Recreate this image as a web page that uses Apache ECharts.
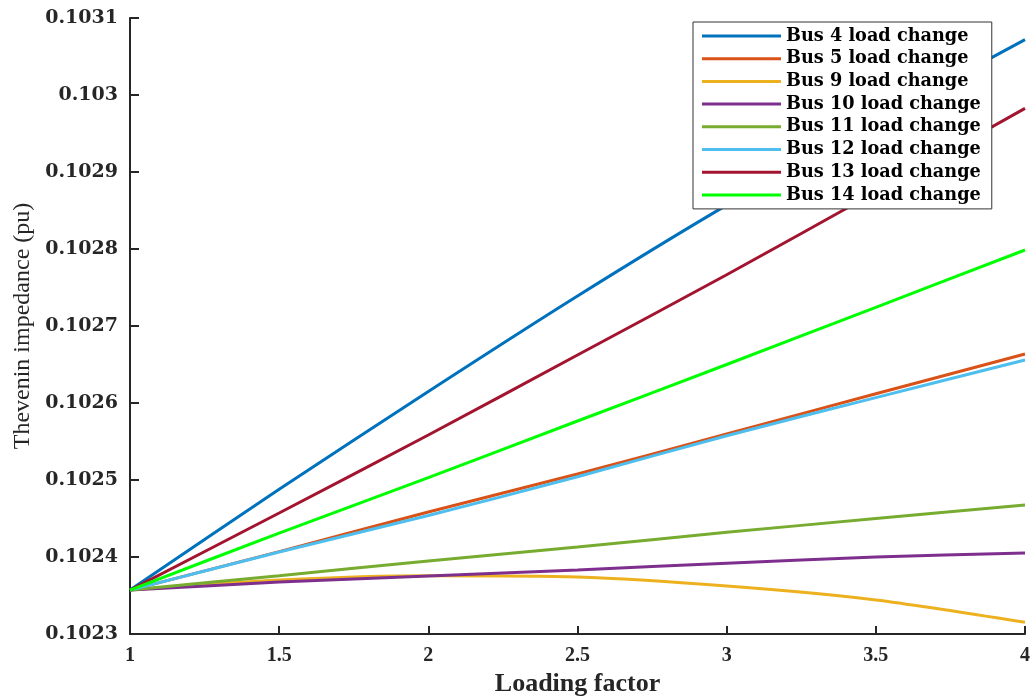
<!DOCTYPE html>
<html>
<head>
<meta charset="utf-8">
<script src="https://cdn.jsdelivr.net/npm/echarts@6/dist/echarts.min.js"></script>
<style>html,body{margin:0;padding:0;background:#fff}#c{width:1035px;height:697px}</style>
</head>
<body>
<div id="c"></div>
<script>
const loadingFactor = [1, 1.5, 2, 2.5, 3, 3.5, 4];
const seriesNames = ['Bus 4 load change','Bus 5 load change','Bus 9 load change','Bus 10 load change','Bus 11 load change','Bus 12 load change','Bus 13 load change','Bus 14 load change'];
const bus4  = [0.102357, 0.102488, 0.102615, 0.102739, 0.102857, 0.102967, 0.103072];
const bus5  = [0.102357, 0.102407, 0.1024584, 0.1025078, 0.1025597, 0.102612, 0.1026636];
const bus9  = [0.102357, 0.10237, 0.1023755, 0.102374, 0.1023623, 0.1023442, 0.1023152];
const bus10 = [0.102357, 0.1023675, 0.1023753, 0.1023831, 0.102392, 0.1024, 0.1024052];
const bus11 = [0.102357, 0.1023757, 0.1023948, 0.102413, 0.102432, 0.10245, 0.1024675];
const bus12 = [0.102357, 0.1024065, 0.1024538, 0.1025043, 0.1025575, 0.102607, 0.1026558];
const bus13 = [0.102357, 0.1024571, 0.1025584, 0.1026623, 0.1027666, 0.102874, 0.1029827];
const bus14 = [0.102357, 0.102431, 0.102503, 0.1025766, 0.10265, 0.1027243, 0.1027987];

const allSeries = [bus4, bus5, bus9, bus10, bus11, bus12, bus13, bus14];
const colors = ['#0072BD','#D95319','#EDB120','#7E2F8E','#77AC30','#4DBEEE','#A2142F','#00FF00'];
const dark = '#262626';

const chart = echarts.init(document.getElementById('c'), null, {renderer: 'canvas'});
chart.setOption({
  animation: false,
  backgroundColor: '#fff',
  grid: {left: 130, right: 10, top: 18, bottom: 63, containLabel: false, outerBoundsMode: 'none'},
  xAxis: {
    type: 'value', min: 1, max: 4, interval: 0.5,
    name: 'Loading factor', nameLocation: 'middle', nameGap: 27,
    nameTextStyle: {fontFamily: 'Liberation Serif', fontWeight: 'bold', fontSize: 26, color: dark},
    axisLine: {show: true, lineStyle: {color: dark, width: 2}},
    axisTick: {show: true, inside: true, length: 8, lineStyle: {color: dark, width: 2}},
    axisLabel: {margin: 12, fontFamily: 'Liberation Serif', fontWeight: 'bold', fontSize: 20, color: dark},
    splitLine: {show: false}
  },
  yAxis: {
    type: 'value', min: 0.1023, max: 0.1031, interval: 0.0001,
    name: 'Thevenin impedance (pu)', nameLocation: 'middle', nameGap: 94,
    nameTextStyle: {fontFamily: 'Liberation Serif', fontSize: 24, color: dark},
    axisLine: {show: true, lineStyle: {color: dark, width: 2}},
    axisTick: {show: true, inside: true, length: 9, lineStyle: {color: dark, width: 2}},
    axisLabel: {
      margin: 12, fontFamily: 'DejaVu Serif', fontWeight: 'bold', fontSize: 19, color: dark,
      formatter: function (v) { return String(parseFloat(v.toFixed(4))); }
    },
    splitLine: {show: false}
  },
  legend: {
    orient: 'vertical', left: 693, top: 22,
    backgroundColor: '#fff', borderColor: '#333', borderWidth: 1,
    padding: [5, 11, 5, 9],
    icon: 'rect',
    itemWidth: 79, itemHeight: 3, itemGap: 4.7,
    textStyle: {fontFamily: 'DejaVu Serif', fontWeight: 'bold', fontSize: 17.7, color: '#000', lineHeight: 18},
    data: seriesNames
  },
  series: allSeries.map((vals, i) => ({
    name: seriesNames[i],
    type: 'line',
    data: loadingFactor.map((x, j) => [x, vals[j]]),
    smooth: 0.25,
    showSymbol: false,
    symbol: 'none',
    color: colors[i],
    itemStyle: {color: colors[i]},
    lineStyle: {color: colors[i], width: 3}
  }))
});
</script>
</body>
</html>
